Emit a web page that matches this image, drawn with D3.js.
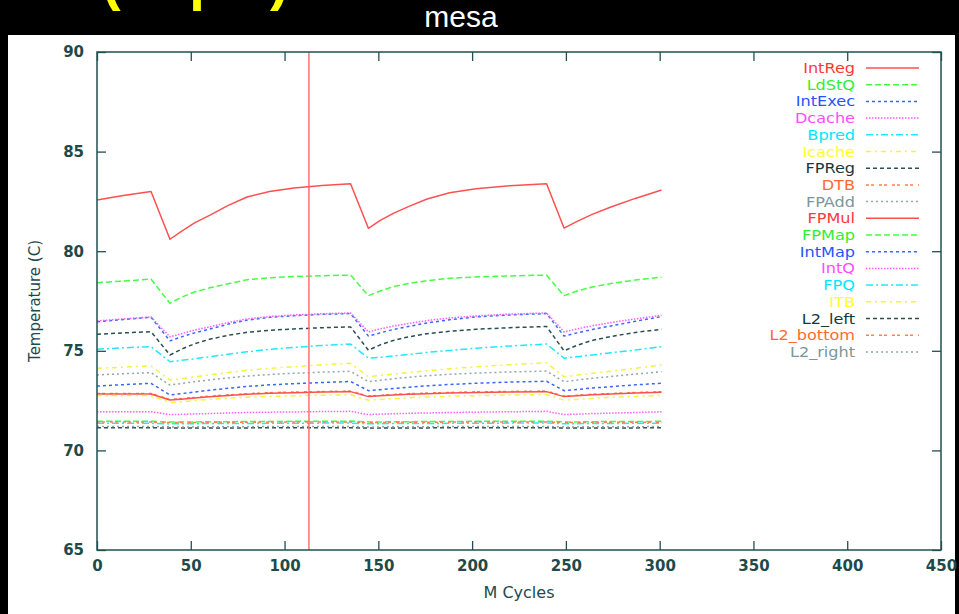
<!DOCTYPE html>
<html>
<head>
<meta charset="utf-8">
<script src="https://cdn.jsdelivr.net/npm/d3@7"></script>
<style>
  body { margin: 0; background: #000; }
  svg { display: block; }
</style>
</head>
<body>
<div id="chart"></div>
<script>
// sample points along the run (M cycles)
const cycles = [0, 14, 28.8, 38.9, 45, 52, 60, 70, 80, 92, 105, 120, 135.2, 144.7, 151, 158, 166, 176, 188, 202, 220, 239.7, 249, 256, 264, 274, 287, 301];

const intReg   = [82.57, 82.8, 83.0, 80.6, 81.0, 81.42, 81.8, 82.3, 82.72, 83.0, 83.17, 83.3, 83.39, 81.15, 81.55, 81.9, 82.24, 82.62, 82.93, 83.14, 83.28, 83.39, 81.16, 81.5, 81.85, 82.22, 82.65, 83.07];
const ldStQ    = [78.42, 78.5, 78.6, 77.38, 77.69, 77.95, 78.16, 78.37, 78.57, 78.67, 78.73, 78.77, 78.8, 77.77, 78.0, 78.22, 78.38, 78.52, 78.64, 78.71, 78.76, 78.8, 77.77, 78.0, 78.2, 78.38, 78.55, 78.7];
const intExec  = [76.46, 76.57, 76.68, 75.5, 75.7, 75.9, 76.09, 76.34, 76.54, 76.68, 76.76, 76.83, 76.87, 75.74, 75.9, 76.07, 76.22, 76.4, 76.56, 76.7, 76.8, 76.87, 75.74, 75.9, 76.07, 76.25, 76.48, 76.72];
const dcache   = [76.5, 76.6, 76.7, 75.7, 75.86, 76.04, 76.2, 76.42, 76.6, 76.72, 76.8, 76.86, 76.9, 75.95, 76.1, 76.24, 76.37, 76.52, 76.65, 76.75, 76.84, 76.9, 75.95, 76.1, 76.25, 76.42, 76.6, 76.78];
const bpred    = [75.08, 75.15, 75.21, 74.45, 74.52, 74.6, 74.7, 74.83, 74.95, 75.07, 75.17, 75.27, 75.34, 74.63, 74.68, 74.74, 74.82, 74.92, 75.02, 75.13, 75.24, 75.34, 74.63, 74.7, 74.79, 74.9, 75.04, 75.21];
const icache   = [74.12, 74.18, 74.24, 73.53, 73.6, 73.69, 73.79, 73.91, 74.02, 74.12, 74.2, 74.3, 74.37, 73.7, 73.76, 73.83, 73.91, 74.0, 74.1, 74.2, 74.3, 74.4, 73.7, 73.78, 73.87, 73.97, 74.12, 74.29];
const fpReg    = [75.83, 75.9, 75.96, 74.79, 75.08, 75.35, 75.58, 75.78, 75.93, 76.03, 76.1, 76.16, 76.2, 75.03, 75.3, 75.52, 75.7, 75.86, 75.98, 76.08, 76.16, 76.22, 75.0, 75.28, 75.52, 75.72, 75.92, 76.08];
const dtb      = [72.86, 72.86, 72.86, 72.56, 72.6, 72.66, 72.72, 72.79, 72.85, 72.9, 72.93, 72.96, 72.98, 72.73, 72.77, 72.81, 72.85, 72.88, 72.91, 72.94, 72.96, 72.98, 72.73, 72.77, 72.82, 72.86, 72.91, 72.95];
const fpAdd    = [73.79, 73.85, 73.9, 73.28, 73.36, 73.45, 73.54, 73.64, 73.73, 73.81, 73.87, 73.93, 73.97, 73.45, 73.52, 73.6, 73.67, 73.75, 73.82, 73.88, 73.94, 73.98, 73.45, 73.53, 73.62, 73.71, 73.83, 73.95];
const fpMul    = [72.83, 72.83, 72.83, 72.53, 72.57, 72.63, 72.69, 72.76, 72.82, 72.87, 72.9, 72.93, 72.95, 72.7, 72.74, 72.78, 72.82, 72.85, 72.88, 72.91, 72.93, 72.95, 72.7, 72.74, 72.79, 72.83, 72.88, 72.92];
const fpMap    = [71.46, 71.46, 71.46, 71.42, 71.43, 71.43, 71.44, 71.44, 71.45, 71.45, 71.46, 71.46, 71.47, 71.43, 71.43, 71.44, 71.44, 71.45, 71.45, 71.46, 71.46, 71.47, 71.43, 71.43, 71.44, 71.45, 71.45, 71.46];
const intMap   = [73.23, 73.3, 73.37, 72.78, 72.85, 72.93, 73.02, 73.12, 73.21, 73.29, 73.35, 73.41, 73.46, 73.0, 73.05, 73.11, 73.17, 73.24, 73.31, 73.37, 73.43, 73.47, 73.0, 73.06, 73.13, 73.2, 73.29, 73.37];
const intQ     = [71.94, 71.94, 71.94, 71.8, 71.81, 71.83, 71.85, 71.88, 71.9, 71.92, 71.93, 71.95, 71.96, 71.8, 71.82, 71.84, 71.86, 71.88, 71.9, 71.92, 71.94, 71.96, 71.8, 71.82, 71.85, 71.87, 71.9, 71.94];
const fpQ      = [71.36, 71.36, 71.36, 71.33, 71.34, 71.34, 71.35, 71.35, 71.35, 71.36, 71.36, 71.37, 71.37, 71.34, 71.34, 71.35, 71.35, 71.35, 71.36, 71.36, 71.37, 71.37, 71.34, 71.34, 71.35, 71.35, 71.36, 71.36];
const itb      = [72.75, 72.75, 72.75, 72.4, 72.44, 72.5, 72.56, 72.62, 72.67, 72.71, 72.74, 72.77, 72.79, 72.52, 72.56, 72.6, 72.64, 72.68, 72.72, 72.75, 72.78, 72.8, 72.52, 72.56, 72.61, 72.66, 72.71, 72.76];
const l2Left   = [71.14, 71.14, 71.14, 71.12, 71.12, 71.12, 71.13, 71.13, 71.13, 71.14, 71.14, 71.14, 71.14, 71.12, 71.12, 71.13, 71.13, 71.13, 71.14, 71.14, 71.14, 71.14, 71.12, 71.12, 71.13, 71.13, 71.13, 71.14];
const l2Bottom = [71.42, 71.42, 71.42, 71.4, 71.4, 71.4, 71.41, 71.41, 71.41, 71.42, 71.42, 71.42, 71.42, 71.4, 71.4, 71.41, 71.41, 71.41, 71.42, 71.42, 71.42, 71.42, 71.4, 71.4, 71.41, 71.41, 71.41, 71.42];
const l2Right  = [71.2, 71.2, 71.2, 71.18, 71.18, 71.18, 71.19, 71.19, 71.19, 71.2, 71.2, 71.2, 71.2, 71.18, 71.18, 71.19, 71.19, 71.19, 71.2, 71.2, 71.2, 71.2, 71.18, 71.18, 71.19, 71.19, 71.19, 71.2];

const seriesNames = ["IntReg", "LdStQ", "IntExec", "Dcache", "Bpred", "Icache", "FPReg", "DTB", "FPAdd",
                     "FPMul", "FPMap", "IntMap", "IntQ", "FPQ", "ITB", "L2_left", "L2_bottom", "L2_right"];
const seriesValues = [intReg, ldStQ, intExec, dcache, bpred, icache, fpReg, dtb, fpAdd,
                      fpMul, fpMap, intMap, intQ, fpQ, itb, l2Left, l2Bottom, l2Right];

const xTicks = [0, 50, 100, 150, 200, 250, 300, 350, 400, 450];
const yTicks = [65, 70, 75, 80, 85, 90];
const markerCycle = 113;

// gnuplot style line types, cycled every 9 series
const lineColors = ["#ff5050", "#44ff44", "#3a66ff", "#ff5cff", "#22e8ff", "#f4f43a", "#2a5050", "#ff8050", "#90a8a8"];
const textColors = ["#ff3838", "#33ee33", "#2255ff", "#ff4cff", "#00e8ff", "#ffff30", "#183838", "#ff6a30", "#7a9898"];
const dashes = [null, "6,3", "3,3", "1.5,1.5", "7,3,2,3", "5,4,2,4", "4,3", "3,2,3,5", "2,3"];

const W = 959, H = 614;
const frame = { left: 97, right: 941, top: 52, bottom: 550 };
const axisColor = "#205050";

const svg = d3.select("#chart").append("svg").attr("width", W).attr("height", H);

// slide background
svg.append("rect").attr("width", W).attr("height", H).attr("fill", "#000");
svg.append("rect").attr("x", 8).attr("y", 35).attr("width", 947).attr("height", H - 35).attr("fill", "#fff");

svg.append("text")
  .attr("x", 102).attr("y", -1)
  .attr("fill", "#ffff00")
  .style("font-family", "Liberation Sans, Arial, sans-serif")
  .style("font-weight", "bold")
  .style("font-size", "56px")
  .text("(Exp 1)");

svg.append("text")
  .attr("x", 461).attr("y", 27)
  .attr("text-anchor", "middle")
  .attr("fill", "#fff")
  .style("font-family", "Liberation Sans, Arial, sans-serif")
  .style("font-size", "30px")
  .text("mesa");

const x = d3.scaleLinear().domain([0, 450]).range([frame.left, frame.right]);
const y = d3.scaleLinear().domain([65, 90]).range([frame.bottom, frame.top]);

const plotH = frame.bottom - frame.top;
const plotW = frame.right - frame.left;
const tickLen = 9;

function styleAxis(g) {
  g.select(".domain").remove();
  g.selectAll("line").attr("stroke", axisColor).attr("stroke-width", 1.3);
}

function styleTickText(g) {
  g.selectAll("text")
    .attr("fill", "#1e4a4a")
    .style("font-family", "DejaVu Sans, sans-serif")
    .style("font-weight", "bold")
    .style("font-size", "15px");
}

// bottom / top / left / right ticks (mirrored, pointing inward)
svg.append("g")
  .attr("transform", `translate(0,${frame.bottom})`)
  .call(d3.axisBottom(x).tickValues(xTicks).tickSize(-tickLen).tickPadding(10).tickFormat(d3.format("d")))
  .call(styleAxis)
  .call(styleTickText);

svg.append("g")
  .attr("transform", `translate(0,${frame.top})`)
  .call(d3.axisTop(x).tickValues(xTicks).tickSize(-tickLen).tickFormat(""))
  .call(styleAxis);

svg.append("g")
  .attr("transform", `translate(${frame.left},0)`)
  .call(d3.axisLeft(y).tickValues(yTicks).tickSize(-tickLen).tickPadding(13).tickFormat(d3.format("d")))
  .call(styleAxis)
  .call(styleTickText);

svg.append("g")
  .attr("transform", `translate(${frame.right},0)`)
  .call(d3.axisRight(y).tickValues(yTicks).tickSize(-tickLen).tickFormat(""))
  .call(styleAxis);

// data lines
const line = d3.line().x((d, i) => x(cycles[i])).y(d => y(d));

const plot = svg.append("g");
seriesValues.forEach((vals, i) => {
  const k = i % 9;
  plot.append("path")
    .datum(vals)
    .attr("fill", "none")
    .attr("stroke", lineColors[k])
    .attr("stroke-width", 1.5)
    .attr("stroke-linejoin", "round")
    .attr("stroke-dasharray", dashes[k])
    .attr("d", line);
});

// vertical marker
svg.append("line")
  .attr("x1", x(markerCycle)).attr("x2", x(markerCycle))
  .attr("y1", frame.top).attr("y2", frame.bottom)
  .attr("stroke", "#ff7070").attr("stroke-width", 1.5);

// frame
svg.append("rect")
  .attr("x", frame.left).attr("y", frame.top)
  .attr("width", plotW).attr("height", plotH)
  .attr("fill", "none").attr("stroke", axisColor).attr("stroke-width", 1.5);

// legend
const legend = svg.append("g").attr("transform", "translate(855,68)");
seriesNames.forEach((name, i) => {
  const k = i % 9;
  const row = legend.append("g").attr("transform", `translate(0,${i * 16.7})`);
  row.append("text")
    .attr("transform", "scale(1.15,1)")
    .attr("x", 0).attr("y", 5)
    .attr("text-anchor", "end")
    .attr("fill", textColors[k])
    .style("font-family", "DejaVu Sans, sans-serif")
    .style("font-size", "14px")
    .text(name);
  row.append("line")
    .attr("x1", 11).attr("x2", 64)
    .attr("stroke", lineColors[k])
    .attr("stroke-width", 1.5)
    .attr("stroke-dasharray", dashes[k]);
});

// axis titles
svg.append("text")
  .attr("x", 519).attr("y", 598)
  .attr("text-anchor", "middle")
  .attr("fill", "#1e4a4a")
  .style("font-family", "DejaVu Sans, sans-serif")
  .style("font-size", "16px")
  .text("M Cycles");

svg.append("text")
  .attr("transform", "translate(40,301) rotate(-90)")
  .attr("text-anchor", "middle")
  .attr("fill", "#1e4a4a")
  .style("font-family", "DejaVu Sans, sans-serif")
  .style("font-size", "15px")
  .text("Temperature (C)");
</script>
</body>
</html>
